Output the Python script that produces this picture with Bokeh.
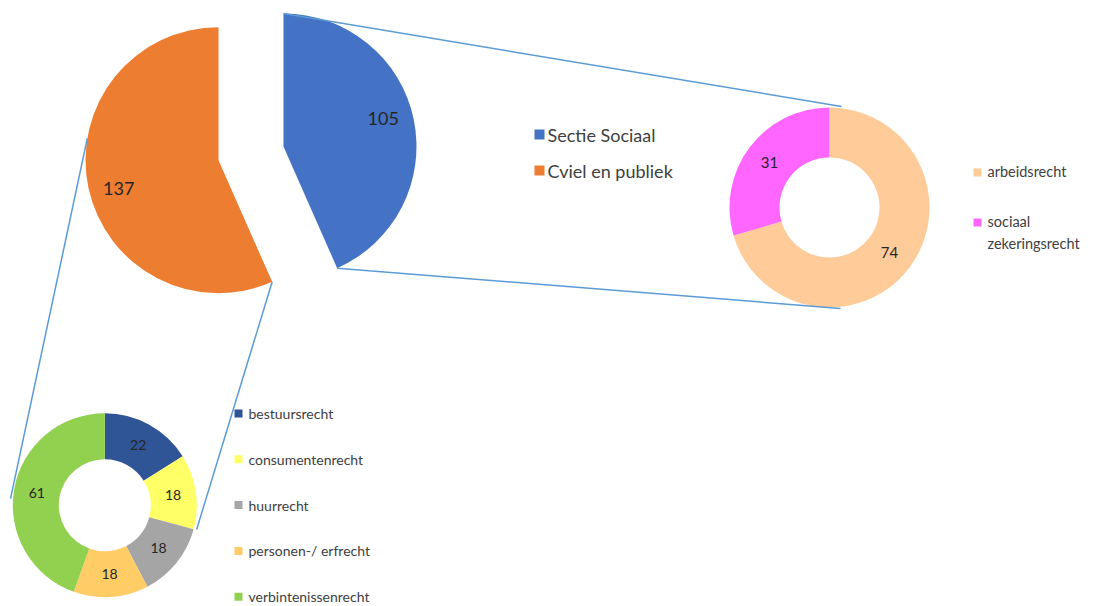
import numpy as np
from bokeh.plotting import figure
from bokeh.models import Range1d
from bokeh.embed import file_html
from bokeh.resources import INLINE
from bokeh.core.properties import value

# ---------------- data ----------------
main_labels = ["Sectie Sociaal", "Cviel en publiek"]
main_values = [105, 137]
sociaal_labels = ["arbeidsrecht", "sociaal\nzekeringsrecht"]
sociaal_values = [74, 31]
civiel_labels = ["bestuursrecht", "consumentenrecht", "huurrecht",
                 "personen-/ erfrecht", "verbintenissenrecht"]
civiel_values = [22, 18, 18, 18, 61]

main_colors = ["#4472C4", "#ED7D31"]
sociaal_colors = ["#FFCC99", "#FF66FF"]
civiel_colors = ["#2F5597", "#FFFF66", "#A5A5A5", "#FFCC66", "#92D050"]

FONT = value("Lato")
LABEL_COLOR = "#262626"
LEGEND_COLOR = "#404040"
LINE_COLOR = "#5B9BD5"

W, H = 1095, 606


def Y(sy):
    return H - sy


def angles(vals):
    v = np.asarray(vals, float)
    frac = v / v.sum()
    cum_end = np.cumsum(frac)
    cum_start = cum_end - frac
    start = np.pi / 2 - 2 * np.pi * cum_start
    end = np.pi / 2 - 2 * np.pi * cum_end
    return start, end, (start + end) / 2


p = figure(width=W, height=H, x_range=Range1d(0, W), y_range=Range1d(0, H),
           output_backend="svg", toolbar_location=None, min_border=0,
           x_axis_type=None, y_axis_type=None, outline_line_color=None,
           background_fill_color="white", border_fill_color="white")
p.grid.visible = False

# ---------------- main pie (exploded) ----------------
c0x, c0y, R, EXP = 250.5, Y(152.8), 133.0, 33.2
ms, me, mm = angles(main_values)
mcx = c0x + EXP * np.cos(mm)
mcy = c0y + EXP * np.sin(mm)
p.wedge(x=mcx, y=mcy, radius=R, start_angle=ms, end_angle=me,
        direction="clock", fill_color=main_colors, line_color=None)
p.text(x=mcx + 0.78 * R * np.cos(mm + 0.07), y=mcy + 0.78 * R * np.sin(mm + 0.07),
       text=[str(v) for v in main_values], text_align="center",
       text_baseline="middle", text_font=FONT, text_font_size="18px",
       text_color=LABEL_COLOR)

# ---------------- right donut (Sectie Sociaal) ----------------
scx, scy, sro, sri = 829.0, Y(207.0), 100.0, 50.0
ss, se, sm = angles(sociaal_values)
p.annular_wedge(x=scx, y=scy, inner_radius=sri, outer_radius=sro,
                start_angle=ss, end_angle=se, direction="clock",
                fill_color=sociaal_colors, line_color=None)
p.text(x=scx + (sri + sro) / 2 * np.cos(sm), y=scy + (sri + sro) / 2 * np.sin(sm),
       text=[str(v) for v in sociaal_values], text_align="center",
       text_baseline="middle", text_font=FONT, text_font_size="15px",
       text_color=LABEL_COLOR)

# ---------------- bottom donut (Civiel en publiek) ----------------
ccx, ccy, cro, cri = 104.3, Y(504.7), 92.0, 46.0
cs, ce, cm = angles(civiel_values)
p.annular_wedge(x=ccx, y=ccy, inner_radius=cri, outer_radius=cro,
                start_angle=cs, end_angle=ce, direction="clock",
                fill_color=civiel_colors, line_color=None)
p.text(x=ccx + (cri + cro) / 2 * np.cos(cm), y=ccy + (cri + cro) / 2 * np.sin(cm),
       text=[str(v) for v in civiel_values], text_align="center",
       text_baseline="middle", text_font=FONT, text_font_size="14px",
       text_color=LABEL_COLOR)

# ---------------- connector lines ----------------
bx, by = mcx[0], mcy[0]
ox, oy = mcx[1], mcy[1]
p.line(x=[bx, 841], y=[by + R, Y(106)], line_color=LINE_COLOR, line_width=1.5)
p.line(x=[bx + R * np.cos(me[0]), 840], y=[by + R * np.sin(me[0]), Y(308)],
       line_color=LINE_COLOR, line_width=1.5)
a_left = np.deg2rad(170.6)
p.line(x=[ox + R * np.cos(a_left), ccx + 94.5 * np.cos(np.deg2rad(176))],
       y=[oy + R * np.sin(a_left), ccy + 94.5 * np.sin(np.deg2rad(176))],
       line_color=LINE_COLOR, line_width=1.5)
p.line(x=[ox + R * np.cos(ms[1]), ccx + 95 * np.cos(np.deg2rad(-14.8))],
       y=[oy + R * np.sin(ms[1]), ccy + 95 * np.sin(np.deg2rad(-14.8))],
       line_color=LINE_COLOR, line_width=1.5)

# ---------------- legends ----------------
n = len(main_labels)
ly = [Y(134 + 36 * i) for i in range(n)]
p.rect(x=[539] * n, y=ly, width=10, height=10, fill_color=main_colors, line_color=None)
p.text(x=[547] * n, y=ly, text=main_labels, text_font=FONT, text_font_size="18px",
       text_baseline="middle", text_color=LEGEND_COLOR)

n = len(sociaal_labels)
ly = [Y(172 + 50 * i) for i in range(n)]
p.rect(x=[977] * n, y=ly, width=8, height=8, fill_color=sociaal_colors, line_color=None)
p.text(x=[987] * n, y=[v + 10 for v in ly], text=sociaal_labels, text_font=FONT,
       text_font_size="14.5px", text_baseline="top", text_line_height=1.3,
       text_color=LEGEND_COLOR)

n = len(civiel_labels)
ly = [Y(413 + 45.8 * i) for i in range(n)]
p.rect(x=[238] * n, y=ly, width=8, height=8, fill_color=civiel_colors, line_color=None)
p.text(x=[248] * n, y=ly, text=civiel_labels, text_font=FONT, text_font_size="14px",
       text_baseline="middle", text_color=LEGEND_COLOR)

open("out.html", "w").write(file_html(p, INLINE))
